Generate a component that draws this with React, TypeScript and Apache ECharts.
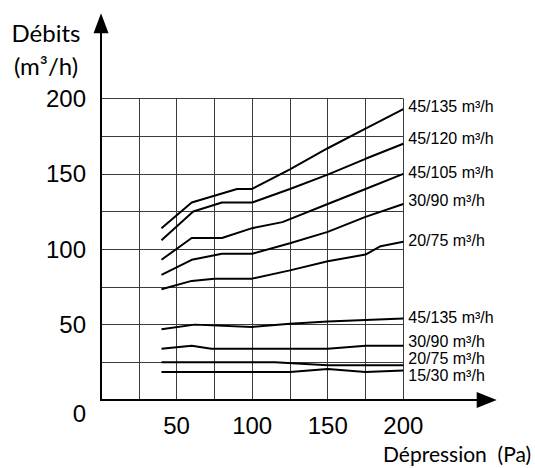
import React, { useEffect, useRef } from 'react';
import * as echarts from 'echarts';

// Dépression (Pa) / Débits (m³/h)
const xTicks = [50, 100, 150, 200];
const yTicks = [0, 50, 100, 150, 200];

const labels = [
  '45/135 m³/h',
  '45/120 m³/h',
  '45/105 m³/h',
  '30/90 m³/h',
  '20/75 m³/h',
  '45/135 m³/h',
  '30/90 m³/h',
  '20/75 m³/h',
  '15/30 m³/h',
];

const x45_135h = [40, 60, 90, 100, 125, 150, 175, 200];
const y45_135h = [114, 131, 140, 140, 153, 167, 180, 193];

const x45_120h = [40, 61, 80, 100, 125, 150, 175, 200];
const y45_120h = [106, 125, 131, 131, 140, 149.5, 160, 170];

const x45_105h = [40, 60, 80, 100, 120, 150, 175, 200];
const y45_105h = [93, 107.5, 107.5, 114, 118, 130, 140, 150];

const x30_90h = [40, 60, 80, 100, 125, 150, 175, 200];
const y30_90h = [83, 93, 97, 97, 104, 111.5, 121.5, 130];

const x20_75h = [40, 60, 75, 100, 125, 150, 175, 185, 200];
const y20_75h = [73.5, 79, 80.5, 80.5, 86, 92, 96.5, 102, 105];

const x45_135l = [40, 62, 100, 125, 150, 200];
const y45_135l = [47, 50, 48.5, 50.5, 52, 54];

const x30_90l = [40, 60, 73, 150, 175, 200];
const y30_90l = [34, 36, 34, 34, 36, 36];

const x20_75l = [40, 115, 150, 200];
const y20_75l = [25, 25, 23, 23];

const x15_30l = [40, 125, 150, 175, 200];
const y15_30l = [18.5, 18.5, 20.5, 18.5, 19.5];

const curves = [
  [x45_135h, y45_135h],
  [x45_120h, y45_120h],
  [x45_105h, y45_105h],
  [x30_90h, y30_90h],
  [x20_75h, y20_75h],
  [x45_135l, y45_135l],
  [x30_90l, y30_90l],
  [x20_75l, y20_75l],
  [x15_30l, y15_30l],
];

// vertical nudges of the end labels (pixels)
const labelDy = [-3, -5.5, -1, -3.5, -1.5, -1, -4.5, -6.5, 5];

export default function App() {
  const ref = useRef<HTMLDivElement>(null);

  useEffect(() => {
    if (!ref.current) return;
    const chart = echarts.init(ref.current, null, { renderer: 'svg' });

    const tickFont = 'Liberation Sans, Arial, sans-serif';
    const titleFont = 'Lato, Open Sans, sans-serif';

    const series = curves.map(([xs, ys], i) => ({
      type: 'line',
      xAxisIndex: 0,
      yAxisIndex: 0,
      showSymbol: false,
      silent: true,
      data: xs.map((x, j) => [x, ys[j]]),
      lineStyle: { color: '#000', width: 2 },
      itemStyle: { color: '#000' },
      endLabel: {
        show: true,
        formatter: () => labels[i],
        distance: 5,
        offset: [0, labelDy[i]],
        color: '#000',
        fontFamily: tickFont,
        fontSize: 16,
      },
      z: 5,
    }));

    const option: any = {
      animation: false,
      backgroundColor: '#fff',
      grid: [
        { left: 101, right: 131.7, top: 98.5, bottom: 68 },
        { left: 101, right: 48.3, top: 23.3, bottom: 68 },
      ],
      xAxis: [
        {
          type: 'value',
          gridIndex: 0,
          min: 0,
          max: 200,
          interval: 25,
          axisLine: { show: false },
          axisTick: { show: false },
          splitLine: { show: true, lineStyle: { color: '#3a3a3a', width: 1 } },
          axisLabel: {
            margin: 13,
            color: '#000',
            fontFamily: tickFont,
            fontSize: 24,
            formatter: (v: number) => (xTicks.includes(v) ? String(v) : ''),
          },
        },
        {
          type: 'value',
          gridIndex: 1,
          min: 0,
          max: 1,
          axisLine: {
            show: true,
            onZero: false,
            symbol: ['none', 'triangle'],
            symbolSize: [16, 20],
            lineStyle: { color: '#000', width: 2 },
          },
          axisTick: { show: false },
          axisLabel: { show: false },
          splitLine: { show: false },
        },
      ],
      yAxis: [
        {
          type: 'value',
          gridIndex: 0,
          min: 0,
          max: 200,
          interval: 25,
          axisLine: { show: false },
          axisTick: { show: false },
          splitLine: { show: true, lineStyle: { color: '#3a3a3a', width: 1 } },
          axisLabel: {
            margin: 15,
            color: '#000',
            fontFamily: tickFont,
            fontSize: 24,
            formatter: (v: number) =>
              yTicks.includes(v) ? (v === 0 ? '{z|0}' : String(v)) : '',
            rich: {
              z: {
                fontFamily: tickFont,
                fontSize: 24,
                color: '#000',
                padding: [26, 0, 0, 0],
              },
            },
          },
        },
        {
          type: 'value',
          gridIndex: 1,
          min: 0,
          max: 1,
          axisLine: {
            show: true,
            onZero: false,
            symbol: ['none', 'triangle'],
            symbolSize: [15, 20],
            lineStyle: { color: '#000', width: 2 },
          },
          axisTick: { show: false },
          axisLabel: { show: false },
          splitLine: { show: false },
        },
      ],
      graphic: [
        {
          type: 'text',
          x: 46,
          y: 32,
          style: {
            text: 'Débits',
            fontFamily: titleFont,
            fontSize: 24,
            fill: '#000',
            textAlign: 'center',
            textVerticalAlign: 'middle',
          },
        },
        {
          type: 'text',
          x: 46,
          y: 65,
          style: {
            text: '(m³/h)',
            fontFamily: titleFont,
            fontSize: 24,
            fill: '#000',
            textAlign: 'center',
            textVerticalAlign: 'middle',
          },
        },
        {
          type: 'text',
          x: 383,
          y: 453,
          style: {
            text: 'Dépression  (Pa)',
            fontFamily: titleFont,
            fontSize: 21,
            fill: '#000',
            textAlign: 'left',
            textVerticalAlign: 'middle',
          },
        },
      ],
      series,
    };

    chart.setOption(option);
    return () => chart.dispose();
  }, []);

  return (
    <div
      ref={ref}
      style={{ position: 'absolute', left: 0, top: 0, width: 535, height: 468 }}
    />
  );
}
